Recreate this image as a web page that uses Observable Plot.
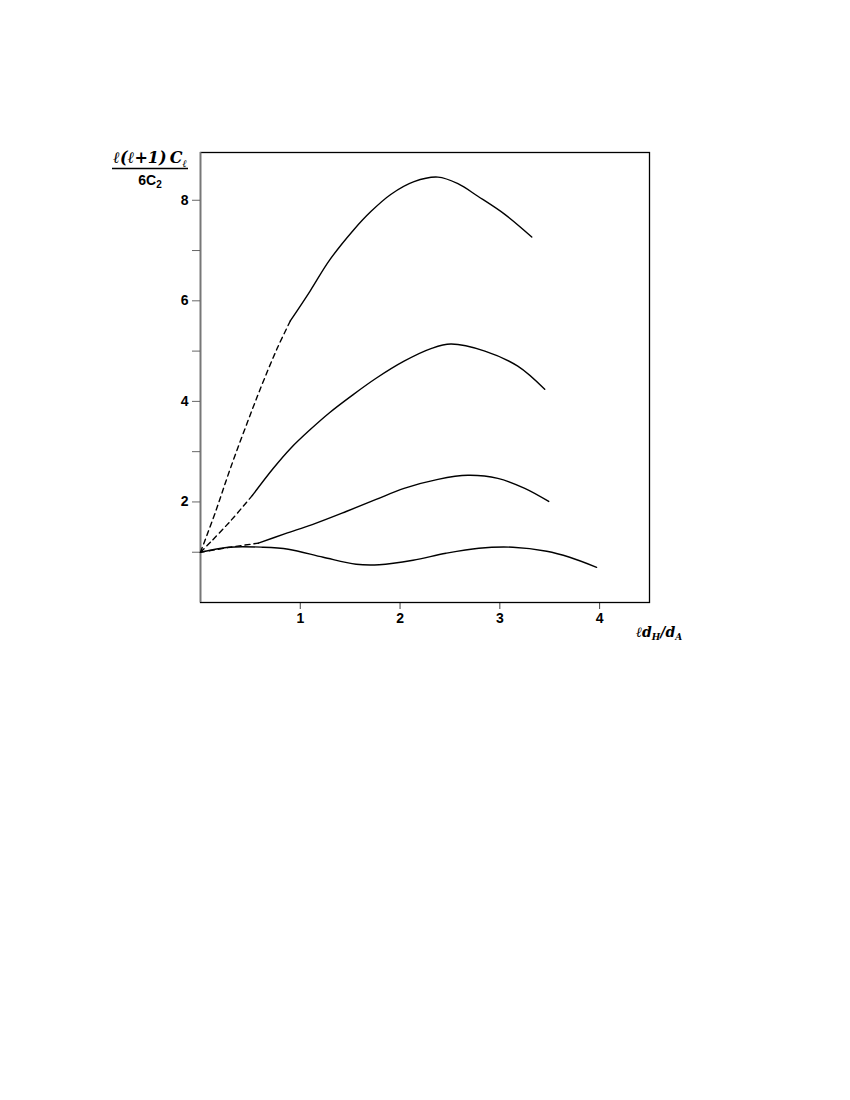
<!DOCTYPE html>
<html>
<head>
<meta charset="utf-8">
<script src="https://cdn.jsdelivr.net/npm/d3@7"></script>
<script src="https://cdn.jsdelivr.net/npm/@observablehq/plot@0.6"></script>
<style>
  html, body { margin: 0; padding: 0; background: #fff; }
  #chart { position: absolute; left: 0; top: 0; }
</style>
</head>
<body>
<div id="chart"></div>
<script>
// ---- data ----
const xTicks = [1, 2, 3, 4];
const yTicks = [1, 2, 3, 4, 5, 6, 7, 8];
const yTickLabels = [2, 4, 6, 8];

// top curve
const c1DashX = [0, 0.15, 0.3, 0.5, 0.63, 0.77, 0.9];
const c1DashY = [1, 1.8, 2.67, 3.74, 4.4, 5.06, 5.6];
const c1SolidX = [0.9, 1.1, 1.29, 1.53, 1.71, 1.91, 2.14, 2.38, 2.58, 2.78, 3.05, 3.32];
const c1SolidY = [5.6, 6.2, 6.8, 7.4, 7.78, 8.12, 8.37, 8.46, 8.33, 8.08, 7.72, 7.27];

// second curve
const c2DashX = [0, 0.1, 0.3, 0.52];
const c2DashY = [1, 1.2, 1.62, 2.13];
const c2SolidX = [0.52, 0.73, 0.9, 1.1, 1.29, 1.52, 1.76, 2.04, 2.31, 2.51, 2.85, 3.18, 3.45];
const c2SolidY = [2.13, 2.67, 3.06, 3.44, 3.77, 4.12, 4.46, 4.8, 5.05, 5.14, 5.0, 4.7, 4.24];

// third curve
const c3DashX = [0, 0.3, 0.58];
const c3DashY = [1, 1.1, 1.18];
const c3SolidX = [0.58, 0.85, 1.12, 1.46, 1.76, 2.04, 2.38, 2.68, 2.98, 3.25, 3.49];
const c3SolidY = [1.18, 1.37, 1.55, 1.81, 2.05, 2.27, 2.45, 2.53, 2.47, 2.27, 2.01];

// bottom curve (solid only)
const c4SolidX = [0, 0.28, 0.62, 0.88, 1.23, 1.56, 1.79, 2.13, 2.46, 2.79, 3.13, 3.47, 3.7, 3.97];
const c4SolidY = [1, 1.1, 1.1, 1.06, 0.9, 0.76, 0.75, 0.84, 0.98, 1.08, 1.1, 1.02, 0.9, 0.7];

// ---- build tables ----
function rows(xs, ys, key) { return xs.map((x, i) => ({x, y: ys[i], key})); }
const dashed = [
  ...rows(c1DashX, c1DashY, "c1"),
  ...rows(c2DashX, c2DashY, "c2"),
  ...rows(c3DashX, c3DashY, "c3")
];
const solid = [
  ...rows(c1SolidX, c1SolidY, "c1"),
  ...rows(c2SolidX, c2SolidY, "c2"),
  ...rows(c3SolidX, c3SolidY, "c3"),
  ...rows(c4SolidX, c4SolidY, "c4")
];

const W = 850, H = 680;
const mL = 200, mR = 201, mT = 152, mB = 78;

const chart = Plot.plot({
  width: W, height: H,
  marginLeft: mL, marginRight: mR, marginTop: mT, marginBottom: mB,
  style: {fontFamily: "'Liberation Sans', Arial, sans-serif", fontSize: "14px", fontWeight: "bold", background: "white", color: "black"},
  x: {domain: [0, 4.5]},
  y: {domain: [0, 8.95]},
  marks: [
    Plot.axisX({ticks: xTicks, tickSize: 7, tickPadding: 4, label: null, stroke: "#444", fill: "black",
      tickFormat: d3.format("d")}),
    Plot.axisY({ticks: yTicks, tickSize: 8, tickPadding: 4, label: null, stroke: "#666", fill: "black",
      tickFormat: d => yTickLabels.includes(d) ? String(d) : ""}),
    Plot.frame({stroke: "black", strokeWidth: 1.3}),
    Plot.ruleX([0], {stroke: "#777", strokeWidth: 1.6}),
    Plot.line(dashed, {x: "x", y: "y", z: "key", curve: "catmull-rom", stroke: "black", strokeWidth: 1.4, strokeDasharray: "5,4"}),
    Plot.line(solid, {x: "x", y: "y", z: "key", curve: "catmull-rom", stroke: "black", strokeWidth: 1.4})
  ]
});

const svg = d3.select(chart);
const serif = "'DejaVu Serif', 'Liberation Serif', serif";

// y-axis label: fraction l(l+1)C_l / 6C_2
const num = svg.append("text")
  .attr("x", 150).attr("y", 163)
  .attr("text-anchor", "middle")
  .attr("font-family", serif).attr("font-style", "italic").attr("font-weight", "bold")
  .attr("font-size", 16).attr("fill", "black");
num.append("tspan").text("ℓ(ℓ+1)\u2009C");
num.append("tspan").attr("font-size", 10).attr("dy", 4).text("ℓ");
svg.append("line")
  .attr("x1", 112).attr("x2", 188).attr("y1", 168.5).attr("y2", 168.5)
  .attr("stroke", "black").attr("stroke-width", 1.4);
const den = svg.append("text")
  .attr("x", 150).attr("y", 185)
  .attr("text-anchor", "middle")
  .attr("font-family", "'Liberation Sans', Arial, sans-serif").attr("font-weight", "bold")
  .attr("font-size", 14).attr("fill", "black");
den.append("tspan").text("6C");
den.append("tspan").attr("font-size", 10).attr("dy", 3).text("2");

// x-axis label: l d_H / d_A
const xl = svg.append("text")
  .attr("x", 636).attr("y", 637)
  .attr("text-anchor", "start")
  .attr("font-family", serif).attr("font-style", "italic").attr("font-weight", "bold")
  .attr("font-size", 14).attr("fill", "black");
xl.append("tspan").text("ℓd");
xl.append("tspan").attr("font-size", 9).attr("dy", 3).text("H");
xl.append("tspan").attr("dy", -3).text("/d");
xl.append("tspan").attr("font-size", 9).attr("dy", 3).text("A");

document.getElementById("chart").appendChild(chart);
</script>
</body>
</html>
